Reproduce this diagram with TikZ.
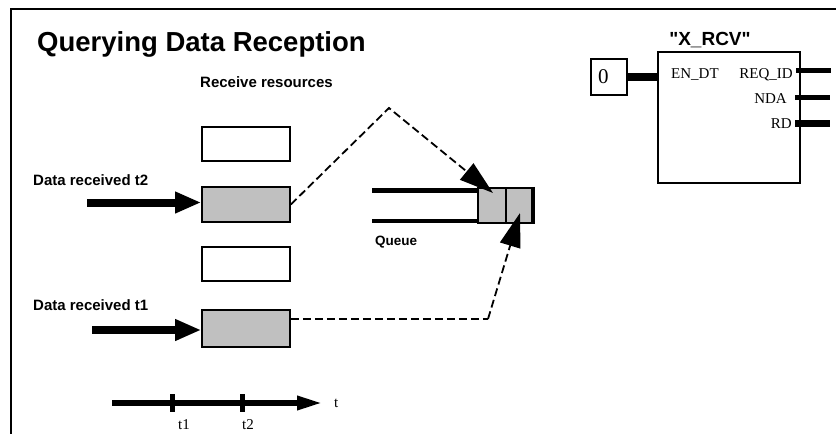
\documentclass[tikz,border=0pt]{standalone}
\usepackage{fontspec}
\setmainfont{Liberation Serif}
\setsansfont{Liberation Sans}
\usetikzlibrary{arrows.meta,calc}
\definecolor{silver}{RGB}{192,192,192}
\newcommand{\straightdq}{\XeTeXglyph\XeTeXcharglyph"22\relax}
\begin{document}
\begin{tikzpicture}[x=1pt,y=-1pt,
  lbl/.style={inner sep=0pt,anchor=base west},
  bsans/.style={lbl,font=\sffamily\bfseries\fontsize{15}{17}\selectfont},
  serif/.style={inner sep=0pt,font=\rmfamily\fontsize{15}{17}\selectfont},
  resbox/.style={draw,line width=1.6pt,minimum width=88pt,minimum height=34pt,inner sep=0pt,fill=white},
  fullbox/.style={resbox,fill=silver},
  cell/.style={draw,line width=1.4pt,fill=silver,minimum height=35pt,inner sep=0pt},
  fatarrow/.style={line width=8pt,-{Triangle[length=26pt,width=20pt]}},
  dsh/.style={line width=1.8pt,dash pattern=on 8pt off 4pt,-{Triangle[length=34pt,width=21pt]}},
  dshplain/.style={line width=1.8pt,dash pattern=on 8pt off 4pt},
  stub/.style={line width=5pt}
]
\useasboundingbox (0,0) rectangle (836,434);
% frame
\coordinate (fa) at (11,434);
\coordinate (fb) at (11,8.5);
\coordinate (fc) at (836,8.5);
\draw[line width=2pt] (fa) -- (fb) -- (fc);

% title
\node[lbl,font=\sffamily\bfseries\fontsize{27.5}{30}\selectfont] (title) at (37,51) {Querying Data Reception};
\node[bsans] (recres) at (200,87) {Receive resources};
\node[bsans] (drt2) at (33,185) {Data received t2};
\node[bsans] (drt1) at (33,310) {Data received t1};

% resource boxes
\node[resbox] (r1) at (246,144) {};
\node[fullbox,minimum height=35pt] (r2) at (246,204.5) {};
\node[resbox] (r3) at (246,264) {};
\node[fullbox,minimum height=37pt] (r4) at (246,328.5) {};

% fat arrows
\coordinate (s2) at (87,202.5);
\coordinate (s1) at (92,330);
\draw[fatarrow] (s2) -- (s2 -| r2.west);
\draw[fatarrow] (s1) -- (s1 -| r4.west);

% queue
\node[cell,minimum width=28pt] (q1) at (492,205.5) {};
\node[cell,minimum width=26pt] (q2) at (519,205.5) {};
\coordinate (qa) at (372,190.5);
\coordinate (qb) at (372,221);
\draw[line width=5pt] (qa) -- (qa -| q1.west);
\draw[line width=4.5pt] (qb) -- (qb -| q1.west);
\draw[line width=3.5pt] ($(q2.north east)+(1,-0.5)$) -- ($(q2.south east)+(1,0.5)$);
\node[bsans,font=\sffamily\bfseries\fontsize{13.5}{15}\selectfont] (queue) at (375,245) {Queue};

% dashed connectors
\coordinate (pk) at (389,108);
\coordinate (tip1) at ($(q1.center)+(1,-12.5)$);
\draw[dsh] (r2.east) -- (pk) -- (tip1);
\coordinate (d1) at ($(r4.east)+(0,-9.5)$);
\coordinate (cr) at (488,319);
\coordinate (tip2) at ($(q2.center)+(1,7.5)$);
\draw[dshplain] (d1) -- (cr);
\draw[dsh] (cr) -- (tip2);

% timeline
\coordinate (ta) at (112,403);
\coordinate (tb) at (323,403);
\draw[line width=6pt,-{Triangle[length=26pt,width=13pt]}] (ta) -- (tb);
\coordinate (k1a) at (172,394); \coordinate (k1b) at (172,412);
\coordinate (k2a) at (242,394); \coordinate (k2b) at (242,412);
\draw[line width=5pt] (k1a) -- (k1b);
\draw[line width=5pt] (k2a) -- (k2b);
\node[serif,anchor=base] (lt1) at (184,429) {t1};
\node[serif,anchor=base] (lt2) at (248,429) {t2};
\node[serif,anchor=base west] (lt) at (334,407) {t};

% X_RCV block
\node[lbl,anchor=base,font=\sffamily\bfseries\fontsize{19}{21}\selectfont] (bname) at (710,45) {\straightdq X\_RCV\straightdq};
\node[draw,line width=1.6pt,minimum width=142pt,minimum height=131pt,inner sep=0pt] (blk) at (729,117.5) {};
\node[draw,line width=1.4pt,minimum width=36pt,minimum height=36pt,inner sep=0pt] (z) at (609,77) {};
\node[inner sep=0pt,anchor=base west,font=\rmfamily\fontsize{21}{23}\selectfont] (zero) at (598,83) {0};
\draw[line width=7.5pt] (z.east) -- (z.east -| blk.west);
\node[serif,anchor=base west] (endt) at (671,78) {EN\_DT};
\node[serif,anchor=base east] (reqid) at (793,78) {REQ\_ID};
\node[serif,anchor=base east] (nda) at (787,103) {NDA};
\node[serif,anchor=base east] (rd) at (792,128) {RD};
\coordinate (o1a) at (796,70.5); \coordinate (o1b) at (831,70.5);
\coordinate (o2a) at (795,97.5); \coordinate (o2b) at (830,97.5);
\coordinate (o3a) at (795,123.5); \coordinate (o3b) at (830,123.5);
\draw[stub] (o1a) -- (o1b);
\draw[stub] (o2a) -- (o2b);
\draw[stub,line width=7pt] (o3a) -- (o3b);
\end{tikzpicture}
\end{document}
